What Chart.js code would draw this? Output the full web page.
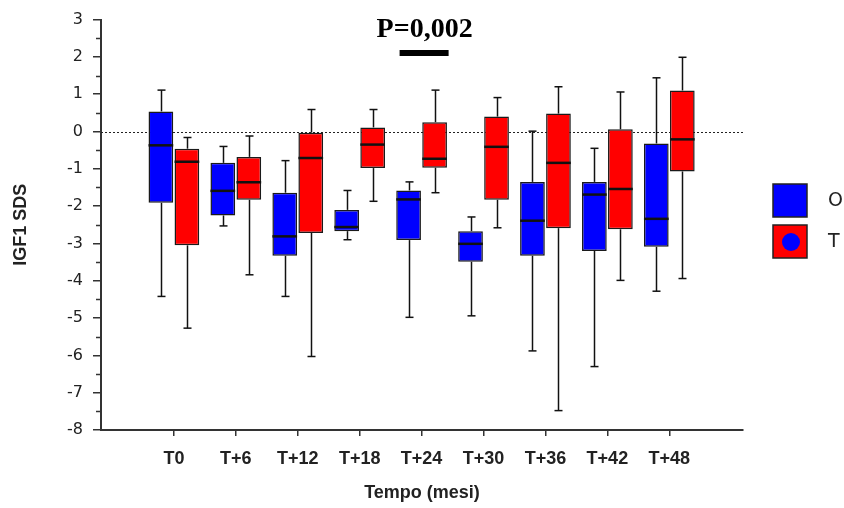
<!DOCTYPE html>
<html>
<head>
<meta charset="utf-8">
<title>IGF1 SDS</title>
<script src="https://cdn.jsdelivr.net/npm/chart.js@4.4.1/dist/chart.umd.min.js"></script>
<style>
  html, body { margin: 0; padding: 0; background: #fff; }
</style>
</head>
<body>
<canvas id="igf-chart" width="844" height="508"></canvas>
<script>
// categorie (tempo in mesi)
const categories = ["T0", "T+6", "T+12", "T+18", "T+24", "T+30", "T+36", "T+42", "T+48"];

// gruppo O (blu)
const oMin = [-4.42, -2.53, -4.42, -2.90, -4.98, -4.94, -5.88, -6.30, -4.28];
const oQ1 = [-1.91, -2.25, -3.33, -2.67, -2.91, -3.49, -3.33, -3.20, -3.09];
const oMedian = [-0.37, -1.59, -2.81, -2.56, -1.82, -3.01, -2.39, -1.69, -2.34];
const oQ3 = [0.54, -0.84, -1.64, -2.10, -1.58, -2.67, -1.35, -1.35, -0.32];
const oMax = [1.11, -0.40, -0.78, -1.58, -1.35, -2.29, 0.01, -0.45, 1.44];

// gruppo T (rosso)
const tMin = [-5.27, -3.84, -6.03, -1.87, -1.64, -2.58, -7.48, -3.99, -3.94];
const tQ1 = [-3.05, -1.83, -2.72, -0.98, -0.97, -1.83, -2.59, -2.62, -1.07];
const tMedian = [-0.81, -1.36, -0.71, -0.35, -0.73, -0.41, -0.84, -1.54, -0.21];
const tQ3 = [-0.46, -0.68, -0.03, 0.11, 0.25, 0.40, 0.48, 0.06, 1.10];
const tMax = [-0.16, -0.12, 0.59, 0.59, 1.11, 0.91, 1.20, 1.06, 1.99];

// asse y
const yMin = -8;
const yMax = 3;

// annotazione
const pValueText = "P=0,002";
const pValueIndex = 4;

const blue = "#0000ff";
const red = "#ff0000";
const axisColor = "#333333";

function boxes(q1, q3) {
    return q1.map((v, i) => ({ x: i, y: [v, q3[i]] }));
}

function line(ctx, x1, y1, x2, y2) {
    ctx.beginPath();
    ctx.moveTo(x1, y1);
    ctx.lineTo(x2, y2);
    ctx.stroke();
}

const boxPlugin = {
    id: "boxWhiskers",
    beforeDatasetsDraw(chart) {
        // linea tratteggiata a 0
        const ctx = chart.ctx;
        const area = chart.chartArea;
        const y0 = Math.round(chart.scales.y.getPixelForValue(0)) + 0.5;
        ctx.save();
        ctx.strokeStyle = "#222";
        ctx.lineWidth = 1;
        ctx.setLineDash([2, 2]);
        line(ctx, area.left, y0, area.right, y0);
        ctx.restore();
    },
    afterDatasetsDraw(chart) {
        const ctx = chart.ctx;
        const yScale = chart.scales.y;
        ctx.save();
        ctx.strokeStyle = "#111";
        chart.data.datasets.forEach((ds, d) => {
            const meta = chart.getDatasetMeta(d);
            meta.data.forEach((bar, i) => {
                const x = Math.round(bar.x) + 0.5;
                const w = bar.width;
                const pMin = yScale.getPixelForValue(ds.whiskerMin[i]);
                const pMax = yScale.getPixelForValue(ds.whiskerMax[i]);
                const pQ1 = yScale.getPixelForValue(ds.data[i].y[0]);
                const pQ3 = yScale.getPixelForValue(ds.data[i].y[1]);
                const pMed = yScale.getPixelForValue(ds.median[i]);
                ctx.lineWidth = 1.5;
                line(ctx, x, pQ3, x, pMax);
                line(ctx, x - 4, pMax, x + 4, pMax);
                line(ctx, x, pQ1, x, pMin);
                line(ctx, x - 4, pMin, x + 4, pMin);
                ctx.lineWidth = 2.5;
                line(ctx, bar.x - w / 2, pMed, bar.x + w / 2, pMed);
            });
        });
        ctx.restore();
    },
    afterDraw(chart) {
        const ctx = chart.ctx;
        const area = chart.chartArea;
        const xScale = chart.scales.x;
        const yScale = chart.scales.y;
        ctx.save();

        // tacche minori asse y
        ctx.strokeStyle = axisColor;
        ctx.lineWidth = 1.5;
        for (let v = yMin + 0.5; v < yMax; v++) {
            const py = Math.round(yScale.getPixelForValue(v)) + 0.5;
            line(ctx, area.left - 5, py, area.left, py);
        }

        // P value
        const px = xScale.getPixelForValue(pValueIndex) + 3;
        ctx.fillStyle = "#000";
        ctx.font = "bold 28px 'Liberation Serif', 'Times New Roman', serif";
        ctx.textAlign = "center";
        ctx.textBaseline = "alphabetic";
        ctx.fillText(pValueText, px, 37);
        ctx.fillRect(px - 25, 50, 49, 6);

        // legenda
        const lx = area.right + 30;
        const ly = 184;
        ctx.lineWidth = 1.5;
        ctx.strokeStyle = "#222";
        ctx.fillStyle = blue;
        ctx.fillRect(lx, ly, 34, 33);
        ctx.strokeRect(lx, ly, 34, 33);
        ctx.fillStyle = red;
        ctx.fillRect(lx, ly + 41, 34, 33);
        ctx.strokeRect(lx, ly + 41, 34, 33);
        ctx.fillStyle = blue;
        ctx.beginPath();
        ctx.arc(lx + 18, ly + 58, 9, 0, Math.PI * 2);
        ctx.fill();

        ctx.fillStyle = "#222";
        ctx.font = "19px 'DejaVu Sans', sans-serif";
        ctx.textAlign = "left";
        ctx.textBaseline = "middle";
        ctx.fillText("O", lx + 55, ly + 17);
        ctx.fillText("T", lx + 55, ly + 58);
        ctx.restore();
    }
};

const igfChart = new Chart("igf-chart", {
    type: "bar",
    data: {
        datasets: [{
            label: "O",
            data: boxes(oQ1, oQ3),
            whiskerMin: oMin,
            whiskerMax: oMax,
            median: oMedian,
            backgroundColor: blue,
            borderColor: "#1a1a1a",
            borderWidth: 1.5,
            borderSkipped: false
        }, {
            label: "T",
            data: boxes(tQ1, tQ3),
            whiskerMin: tMin,
            whiskerMax: tMax,
            median: tMedian,
            backgroundColor: red,
            borderColor: "#1a1a1a",
            borderWidth: 1.5,
            borderSkipped: false
        }]
    },
    options: {
        responsive: false,
        animation: false,
        devicePixelRatio: 1,
        categoryPercentage: 0.84,
        barPercentage: 0.95,
        layout: { padding: { top: 11, right: 101, left: 0, bottom: 0 } },
        plugins: {
            legend: { display: false },
            tooltip: { enabled: false }
        },
        scales: {
            x: {
                type: "linear",
                offset: false,
                min: -1.177,
                max: 9.19,
                afterBuildTicks(scale) {
                    scale.ticks = categories.map((c, i) => ({ value: i }));
                },
                afterFit(scale) {
                    scale.height = 78;
                },
                ticks: {
                    autoSkip: false,
                    maxRotation: 0,
                    padding: 12,
                    color: "#222",
                    font: { family: "'Liberation Sans', Arial, sans-serif", size: 18, weight: "bold" },
                    callback: (value) => categories[value]
                },
                grid: { offset: false, drawOnChartArea: false, tickLength: 6, color: axisColor, lineWidth: 1.5 },
                border: { color: axisColor, width: 2 },
                title: {
                    display: true,
                    text: "Tempo (mesi)",
                    color: "#222",
                    font: { family: "'Liberation Sans', Arial, sans-serif", size: 18, weight: "bold" },
                    padding: { top: 0, bottom: 4 }
                }
            },
            y: {
                min: yMin,
                max: yMax,
                afterFit(scale) {
                    scale.width = 101;
                },
                ticks: {
                    stepSize: 1,
                    padding: 10,
                    color: "#222",
                    font: { family: "'DejaVu Sans', sans-serif", size: 16 }
                },
                grid: { drawOnChartArea: false, tickLength: 8, color: axisColor, lineWidth: 1.5 },
                border: { color: axisColor, width: 2 },
                title: {
                    display: true,
                    text: "IGF1 SDS",
                    color: "#222",
                    font: { family: "'Liberation Sans', Arial, sans-serif", size: 18, weight: "bold" },
                    padding: { top: 10, bottom: 0 }
                }
            }
        }
    },
    plugins: [boxPlugin]
});
</script>
</body>
</html>
